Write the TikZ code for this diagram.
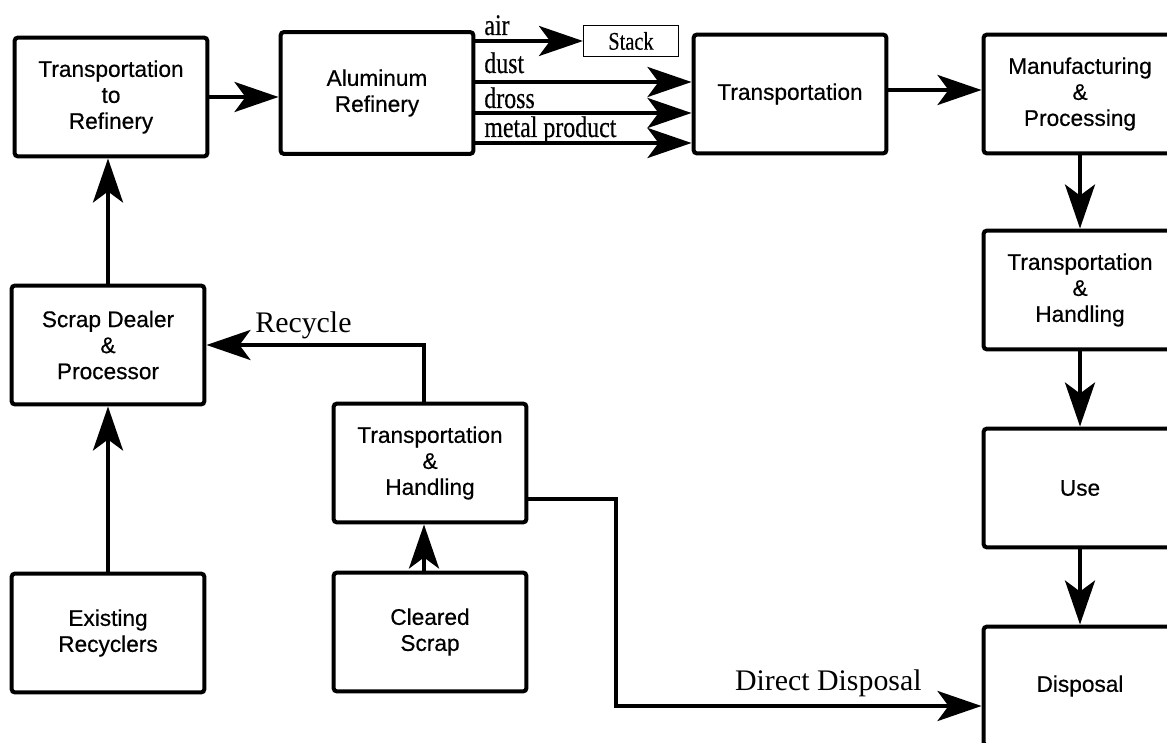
\documentclass[tikz,border=0pt]{standalone}
\usepackage{fontspec}
\setmainfont[FakeBold=0.5]{Liberation Sans}
\newfontfamily\lblfont[FakeStretch=0.8, FakeBold=0.3]{Liberation Serif}
\newfontfamily\bigserif{Liberation Serif}
\usetikzlibrary{positioning, arrows.meta, calc}

\begin{document}
\begin{tikzpicture}[x=0.02cm, y=-0.02cm,
          box/.style={draw, line width=0.08cm, rounded corners=2pt,
                      minimum width=3.86cm, minimum height=2.38cm, align=center,
                      inner sep=2pt, font=\fontsize{12.9}{14.8}\selectfont},
          arr/.style={-{Stealth[length=0.88cm, width=0.6cm, inset=0.22cm]}, line width=0.08cm},
          lbl/.style={inner sep=0pt, font=\lblfont\fontsize{17}{19}\selectfont},
          big/.style={inner sep=0pt, font=\bigserif\fontsize{17}{19}\selectfont}]
  \useasboundingbox (0,0) rectangle (1167,743);

  % top row
  \node[box] (tr) at (111,97) {Transportation\\to\\Refinery};
  \node[box, minimum height=2.44cm] (ar) at (377,93) {Aluminum\\Refinery};
  \node[draw, line width=0.6pt, minimum width=1.9cm, minimum height=0.62cm,
        inner sep=0pt, font=\lblfont\fontsize{14.5}{16}\selectfont] (stack) at (631,41) {Stack};
  \node[box] (tp) at (790,94) {Transportation};
  \node[box] (mp) at (1080,94) {Manufacturing\\\&\\Processing};

  % right column
  \node[box] (th2) at (1080,290) {Transportation\\\&\\Handling};
  \node[box] (use) at (1080,488) {Use};
  \node[box] (disp) at (1080,686) {Disposal};

  % left and middle
  \node[box] (sd) at (108,345) {Scrap Dealer\\\&\\Processor};
  \node[box] (er) at (108,633) {Existing\\Recyclers};
  \node[box] (th) at (430,463) {Transportation\\\&\\Handling};
  \node[box] (cs) at (430,632) {Cleared\\Scrap};

  % refinery outputs
  \node[lbl, anchor=base west] (air) at (484,35) {air};
  \node[lbl, anchor=base west] (dust) at (484,73) {dust};
  \node[lbl, anchor=base west] (dross) at (484,108) {dross};
  \node[lbl, anchor=base west] (metal) at (484,137) {metal product};
  \draw[arr] (ar.east |- stack.west) -- (stack.west);
  \draw[arr] (ar.east |- 0,82) -- (tp.west |- 0,82);
  \draw[arr] (ar.east |- 0,113) -- (tp.west |- 0,113);
  \draw[arr] (ar.east |- 0,143) -- (tp.west |- 0,143);

  \draw[arr] (tr.east) -- (tr.east -| ar.west);
  \draw[arr] (tp.east |- 0,90) -- (mp.west |- 0,90);
  \draw[arr] (mp.south) -- (th2.north);
  \draw[arr] (th2.south) -- (use.north);
  \draw[arr] (use.south) -- (disp.north);

  \draw[arr] (er.north) -- (sd.south);
  \draw[arr] (sd.north) -- (sd.north |- tr.south);
  \draw[arr] ([xshift=-0.12cm]cs.north) -- ([xshift=-0.12cm]th.south);
  \draw[arr] ([xshift=-0.12cm]th.north) |- (sd.east);
  \node[big, anchor=base west] (rec) at (255,333) {Recycle};

  \draw[arr] (th.east |- 0,499) -| (616,706) -- (disp.west |- 0,706);
  \node[big, anchor=base east] (dd) at (922,690) {Direct Disposal};
\end{tikzpicture}
\end{document}
